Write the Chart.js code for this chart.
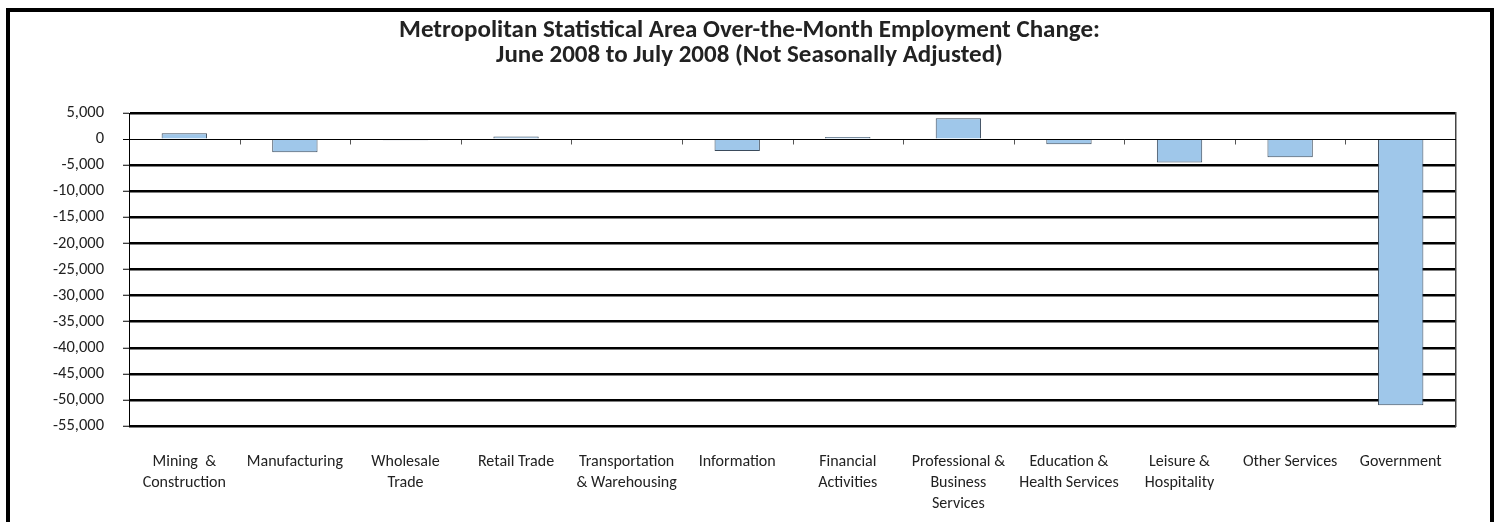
<!DOCTYPE html>
<html>
<head>
<meta charset="utf-8">
<script src="https://cdn.jsdelivr.net/npm/chart.js@4/dist/chart.umd.min.js"></script>
<style>
  html, body { margin: 0; padding: 0; background: #fff; overflow: hidden; }
  #wrap { position: absolute; left: 0; top: 0; width: 1499px; height: 522px; }
  #frame { position: absolute; left: 6px; top: 8px; width: 1480px; height: 600px; border: 4px solid #000; box-sizing: content-box; pointer-events: none; }
</style>
</head>
<body>
<div id="wrap"><canvas id="c" width="1499" height="522"></canvas></div>
<div id="frame"></div>
<script>
const categories = [
  ["Mining  &", "Construction"],
  "Manufacturing",
  ["Wholesale", "Trade"],
  "Retail Trade",
  ["Transportation", "& Warehousing"],
  "Information",
  ["Financial", "Activities"],
  ["Professional &", "Business", "Services"],
  ["Education &", "Health Services"],
  ["Leisure &", "Hospitality"],
  "Other Services",
  "Government"
];
const changeValues = [1100, -2500, -200, 500, 100, -2300, 400, 4000, -1000, -4500, -3500, -51000];
const titleLines = [
  "Metropolitan Statistical Area Over-the-Month Employment Change:",
  "June 2008 to July 2008 (Not Seasonally Adjusted)"
];
const yMin = -55000, yMax = 5000, yStep = 5000;

const zeroTicks = {
  id: 'zeroTicks',
  afterDatasetsDraw(chart) {
    const x = chart.scales.x, y = chart.scales.y;
    const ctx = chart.ctx;
    const y0 = Math.round(y.getPixelForValue(0)) + 0.5;
    ctx.save();
    ctx.strokeStyle = '#555';
    ctx.lineWidth = 1;
    for (let i = 0; i < categories.length - 1; i++) {
      const px = Math.round((x.getPixelForValue(i) + x.getPixelForValue(i + 1)) / 2) + 0.5;
      ctx.beginPath();
      ctx.moveTo(px, y0);
      ctx.lineTo(px, y0 + 5);
      ctx.stroke();
    }
    ctx.strokeStyle = '#000';
    ctx.beginPath();
    ctx.moveTo(chart.chartArea.left, y0);
    ctx.lineTo(chart.chartArea.right, y0);
    ctx.stroke();
    ctx.restore();
  }
};

new Chart(document.getElementById('c'), {
  type: 'bar',
  data: {
    labels: categories,
    datasets: [{
      data: changeValues,
      backgroundColor: '#9FC7EA',
      borderColor: '#3B4B5C',
      borderWidth: 1,
      categoryPercentage: 1,
      barPercentage: 0.41
    }]
  },
  plugins: [zeroTicks],
  options: {
    responsive: false,
    animation: false,
    layout: { padding: { left: 0, right: 0, top: 0, bottom: 0 } },
    plugins: {
      legend: { display: false },
      tooltip: { enabled: false },
      title: {
        display: true,
        text: titleLines,
        color: '#222',
        font: { family: 'Carlito, Lato, sans-serif', size: 25, weight: 'bold', lineHeight: 1.0 },
        padding: { top: 18, bottom: 45 }
      }
    },
    scales: {
      x: {
        grid: { display: false, drawTicks: false },
        border: { display: false },
        ticks: {
          autoSkip: false, maxRotation: 0, minRotation: 0,
          color: '#222',
          padding: 26,
          font: { family: 'Carlito, Lato, sans-serif', size: 16, lineHeight: 1.3 }
        },
        afterFit(s) { s.height = 96; }
      },
      y: {
        min: yMin, max: yMax,
        ticks: {
          stepSize: yStep,
          color: '#222',
          padding: 19,
          font: { family: 'Carlito, Lato, sans-serif', size: 16.5 },
          callback: v => Number(v).toLocaleString('en-US')
        },
        grid: {
          color: '#000',
          lineWidth: ctx => (ctx.tick && ctx.tick.value === 0) ? 1 : 2.5,
          tickLength: 6,
          tickColor: '#000',
          tickWidth: 1
        },
        border: { display: true, color: '#000', width: 1 },
        afterFit(s) { s.width = 129; }
      },
      y2: {
        position: 'right',
        min: yMin, max: yMax,
        ticks: { display: false },
        grid: { display: false, drawTicks: false },
        border: { display: true, color: '#444', width: 1.5 },
        afterFit(s) { s.width = 43; }
      }
    }
  }
});
</script>
</body>
</html>
